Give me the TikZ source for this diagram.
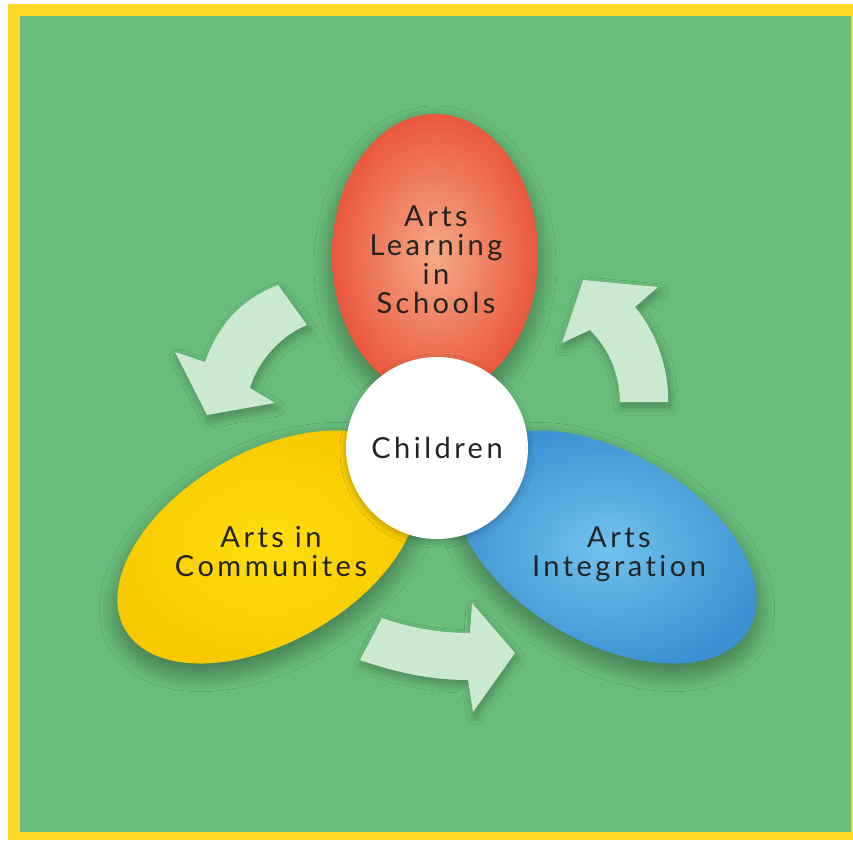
\documentclass[tikz,border=0pt]{standalone}
\usepackage{fontspec}
\setmainfont{Lato}[LetterSpace=12,Ligatures={NoCommon,NoRequired,NoContextual}]
\usetikzlibrary{shapes.geometric,shadows.blur}
\definecolor{bggreen}{RGB}{106,190,124}
\definecolor{frameyellow}{RGB}{255,215,40}
\definecolor{mint}{RGB}{205,232,208}
\definecolor{redin}{RGB}{246,170,135}
\definecolor{redout}{RGB}{234,88,60}
\definecolor{yelin}{RGB}{255,222,10}
\definecolor{yelout}{RGB}{248,200,0}
\definecolor{bluein}{RGB}{112,194,238}
\definecolor{blueout}{RGB}{58,144,208}
\definecolor{ink}{RGB}{35,35,35}
\begin{document}
\begin{tikzpicture}[x=1pt,y=-1pt,
  petal/.style={ellipse, draw=none, outer sep=0pt, inner sep=0pt,
    blur shadow={shadow xshift=0pt, shadow yshift=-10pt, shadow blur radius=18pt, shadow blur steps=40, shadow opacity=40}},
  petaltext/.style={text=ink, align=center, font=\fontsize{29pt}{29pt}\selectfont},
  cyclearrow/.style={fill=mint,
    blur shadow={shadow xshift=2pt, shadow yshift=-5pt, shadow blur radius=8pt, shadow blur steps=25, shadow opacity=30}}]
\useasboundingbox (0,0) rectangle (853,840);
\fill[white] (0,0) rectangle (853,840);
\fill[frameyellow] (8,4) rectangle (853,840);
\fill[bggreen] (20,16) rectangle (851,832);

\node[petal, shade, inner color=redin, outer color=redout, minimum width=206pt, minimum height=282pt] (arts) at (435,255) {};
\node[petal, shade, inner color=yelin, outer color=yelout, minimum width=330pt, minimum height=190pt, rotate=30] (comm) at (268,547) {};
\node[petal, shade, inner color=bluein, outer color=blueout, minimum width=330pt, minimum height=190pt, rotate=-30] (integ) at (606,547) {};

\fill[cyclearrow] (278,285) -- (307,325) .. controls (282,335) and (258,360) .. (250,388) -- (275,403) -- (207,415) -- (175,352) -- (205,362) .. controls (220,320) and (245,298) .. (278,285) -- cycle;
\fill[cyclearrow] (620,402) -- (668,402) .. controls (669,368) and (656,332) .. (635,307) -- (658,287) -- (583,280) -- (562,343) -- (590,330) .. controls (607,347) and (619,370) .. (620,402) -- cycle;
\fill[cyclearrow] (382,618) .. controls (410,628) and (440,633) .. (470,633) -- (472,603) -- (515,653) -- (473,712) -- (468,680) .. controls (435,680) and (400,674) .. (360,660) -- cycle;

\node[circle, fill=white, minimum size=182pt, inner sep=0pt,
  blur shadow={shadow xshift=0pt, shadow yshift=-3pt, shadow blur radius=6pt, shadow blur steps=20, shadow opacity=25},
  petaltext] (child) at (437,448) {Children};

\node[petaltext] (artsT) at (436,260) {Arts\\Learning\\in\\Schools};
\node[petaltext] (commT) at (271,552) {Arts in\\Communites};
\node[petaltext] (integT) at (619,554) {Arts\\Integration};
\end{tikzpicture}
\end{document}
